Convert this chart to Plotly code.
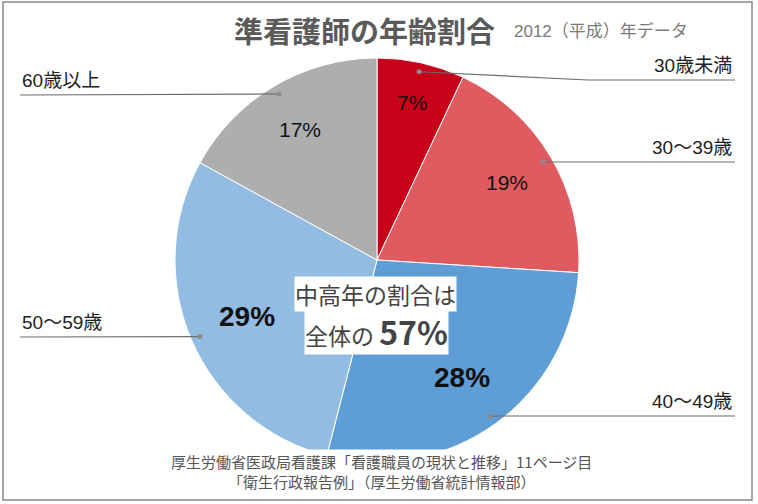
import math
import plotly.graph_objects as go

# ---- data ----
categories = ["30歳未満", "30〜39歳", "40〜49歳", "50〜59歳", "60歳以上"]
shares = [7, 19, 28, 29, 17]
pct_labels = ["7%", "19%", "28%", "29%", "17%"]
title_text = "準看護師の年齢割合"
subtitle_text = "2012（平成）年データ"
center_line1 = "中高年の割合は"
center_line2_a = "全体の "
center_line2_b = "57%"
source_lines = ["厚生労働省医政局看護課「看護職員の現状と推移」11ページ目",
                "「衛生行政報告例」（厚生労働省統計情報部）"]

# ---- style ----
W, H = 758, 504
colors = ["#C8001A", "#E05B5F", "#5F9DD6", "#92BCE2", "#AEAEAE"]
pct_bold = [False, False, True, True, False]
pct_size = [21, 21, 28, 28, 21]
label_r = [0.80, 0.75, 0.72, 0.70, 0.75]
FONT = "Liberation Sans, Noto Sans CJK JP, sans-serif"
CX, CY, R = 377, 260, 202  # pie centre / radius in pixels

def px(x):
    return x / W

def py(y):
    return 1 - y / H

fig = go.Figure(go.Pie(
    labels=categories, values=shares, sort=False, direction="clockwise",
    rotation=0, textinfo="none", hoverinfo="label+percent",
    marker=dict(colors=colors, line=dict(color="white", width=1)),
    domain=dict(x=[px(CX - R), px(CX + R)], y=[py(CY + R), py(CY - R)]),
    showlegend=False,
))

annotations = []
shapes = []

def ann(x, y, text, size, color, xanchor="center", yanchor="middle", family=FONT, **kw):
    annotations.append(dict(x=px(x), y=py(y), xref="paper", yref="paper",
                            xanchor=xanchor, yanchor=yanchor, text=text, showarrow=False,
                            font=dict(family=family, size=size, color=color), **kw))

# slice mid angles from data
total = sum(shares)
cum = 0
mids = []
for v in shares:
    mids.append((cum + v / 2) / total * 2 * math.pi)
    cum += v

for i, a in enumerate(mids):
    r = label_r[i] * R
    x = CX + r * math.sin(a)
    y = CY - r * math.cos(a)
    txt = f"<b>{pct_labels[i]}</b>" if pct_bold[i] else pct_labels[i]
    ann(x, y, txt, pct_size[i], "#111")

# leader lines
dot_r = 0.955 * R
label_side = ["right", "right", "right", "left", "left"]
line_y = [80, 162, 416, 337, 95]
for i, a in enumerate(mids):
    dx = CX + dot_r * math.sin(a)
    dy = CY - dot_r * math.cos(a)
    if label_side[i] == "right":
        xe = 735
        knee = 588 if abs(line_y[i] - dy) > 2 else dx
        path = f"M {px(dx)} {py(dy)} L {px(knee)} {py(line_y[i])} L {px(xe)} {py(line_y[i])}"
        ann(xe - 1, line_y[i] - 2, categories[i], 19, "#222", xanchor="right", yanchor="bottom")
    else:
        xe = 20
        path = f"M {px(dx)} {py(dy)} L {px(xe)} {py(line_y[i])}"
        ann(xe, line_y[i] - 2, categories[i], 19, "#222", xanchor="left", yanchor="bottom")
    shapes.append(dict(type="path", path=path, xref="paper", yref="paper",
                       line=dict(color="#6E6E6E", width=1.2)))
    shapes.append(dict(type="circle", xref="paper", yref="paper",
                       x0=px(dx - 2.5), x1=px(dx + 2.5), y0=py(dy + 2.5), y1=py(dy - 2.5),
                       fillcolor="#8C8C8C", line=dict(width=0)))

# title
ann(364, 30, f"<b>{title_text}</b>", 29, "#5A5A5A", family="Noto Sans CJK JP")
ann(512, 31, subtitle_text, 17, "#7A7A7A", xanchor="left")

# centre message
ann(375, 294, center_line1, 23, "#444", family="Noto Sans CJK JP", bgcolor="white", borderpad=0)
ann(376, 331, f"{center_line2_a}<b><span style='font-size:32px'>{center_line2_b}</span></b>",
    23, "#444", family="Noto Sans CJK JP", bgcolor="white", borderpad=0)

# source
ann(381, 471, "<br>".join(source_lines), 15, "#555", family="Noto Sans CJK JP", bgcolor="white")

# frame
shapes.append(dict(type="rect", xref="paper", yref="paper", x0=px(3), x1=px(752),
                   y0=py(500), y1=py(2), line=dict(color="#8A8A8A", width=1.5)))

fig.update_layout(width=W, height=H, margin=dict(l=0, r=0, t=0, b=0),
                  paper_bgcolor="white", plot_bgcolor="white",
                  annotations=annotations, shapes=shapes)
fig.write_html("out.html")
